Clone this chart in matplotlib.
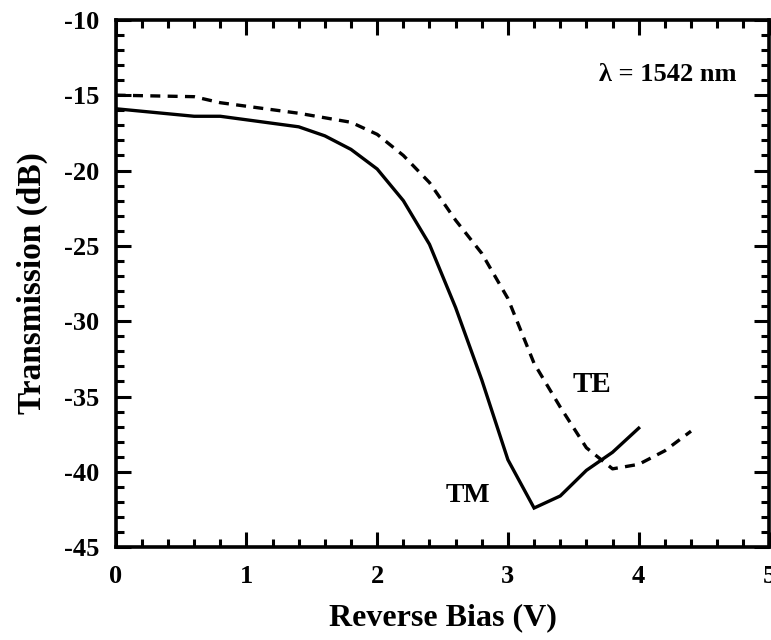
import matplotlib.pyplot as plt
from matplotlib.ticker import MultipleLocator

# Data
bias_tm = [0.0, 0.6, 0.8, 1.4, 1.6, 1.8, 2.0, 2.2, 2.4, 2.6, 2.8, 3.0, 3.2, 3.4, 3.6, 3.8, 4.0]
trans_tm = [-15.9, -16.4, -16.4, -17.1, -17.7, -18.6, -19.9, -22.0, -24.9, -29.1, -33.9,
            -39.2, -42.4, -41.6, -39.9, -38.7, -37.1]

bias_te = [0.0, 0.6, 0.8, 1.4, 1.8, 2.0, 2.2, 2.4, 2.6, 2.8, 3.0, 3.2, 3.4, 3.6, 3.8, 4.0, 4.2, 4.4]
trans_te = [-15.0, -15.1, -15.5, -16.2, -16.8, -17.6, -19.0, -20.8, -23.3, -25.5, -28.5,
            -32.8, -35.7, -38.4, -39.8, -39.5, -38.6, -37.3]

xticks = [0, 1, 2, 3, 4, 5]
yticks = [-45, -40, -35, -30, -25, -20, -15, -10]

plt.rcParams['font.family'] = ['Liberation Serif', 'DejaVu Serif']
plt.rcParams['font.weight'] = 'bold'
plt.rcParams['axes.unicode_minus'] = False

fig = plt.figure(figsize=(7.71, 6.4), dpi=100)
ax = fig.add_axes([0.150, 0.145, 0.848, 0.824])

ax.plot(bias_tm, trans_tm, color='black', lw=2.4, solid_joinstyle='miter')
ax.plot(bias_te, trans_te, color='black', lw=2.4, linestyle=(0, (3, 2.2)))

ax.set_xlim(0, 5)
ax.set_ylim(-45, -10)
ax.set_xticks(xticks)
ax.set_yticks(yticks)
ax.xaxis.set_minor_locator(MultipleLocator(0.2))
ax.yaxis.set_minor_locator(MultipleLocator(1))
ax.tick_params(which='both', direction='in', top=True, right=True, width=2.2, labelsize=19)
ax.tick_params(which='major', length=11)
ax.tick_params(which='minor', length=6)
ax.tick_params(axis='x', which='major', pad=13)
ax.tick_params(axis='y', which='major', pad=12)
for s in ax.spines.values():
    s.set_linewidth(2.6)
for lab in ax.get_xticklabels() + ax.get_yticklabels():
    lab.set_fontweight('bold')

ax.set_xlabel('Reverse Bias (V)', fontsize=23, fontweight='bold', labelpad=11)
ax.set_ylabel('Transmission (dB)', fontsize=24, fontweight='bold', labelpad=11)

ax.text(3.7, -13.6, 'λ = 1542 nm', fontsize=19, fontweight='bold', va='center', ha='left')
ax.text(3.64, -34.2, 'TE', fontsize=21, fontweight='bold', va='center', ha='center')
ax.text(2.69, -41.6, 'TM', fontsize=20, fontweight='bold', va='center', ha='center')

fig.savefig('out.png', dpi=100)
